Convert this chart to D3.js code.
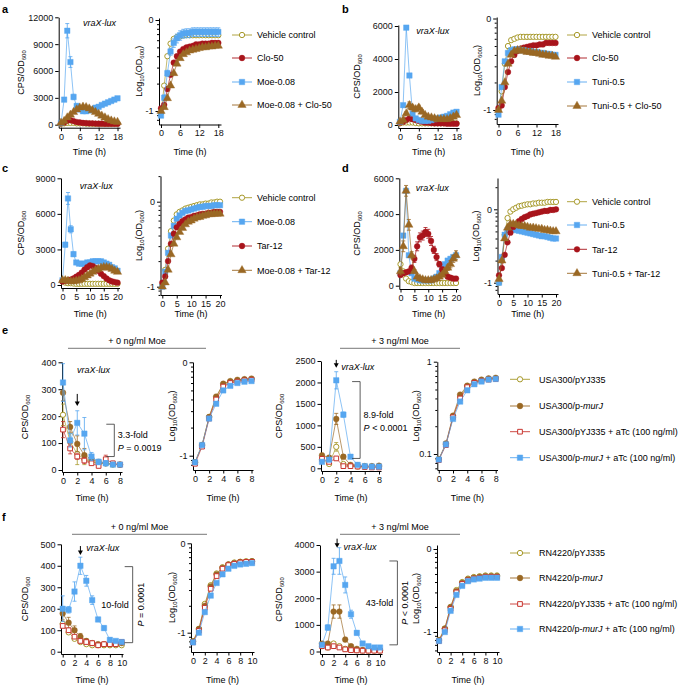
<!DOCTYPE html>
<html><head><meta charset="utf-8">
<script src="https://cdn.jsdelivr.net/npm/d3@7"></script>
<style>body{margin:0;background:#fff} svg text{font-family:"Liberation Sans",Arial,Helvetica,sans-serif}</style>
</head><body><svg id="c" width="685" height="685"></svg>
<script>
// ---------------- DATA ----------------
const tA = [0,1,2,3,4,5,6,7,8,9,10,11,12,13,14,15,16,17,18];
const tC = [0,1,2,3,4,5,6,7,8,9,10,11,12,13,14,15,16,17,18,19,20];
const tE = [0,1,2,3,4,5,6,7,8];
const tF = [0,1,2,3,4,5,6,7,8,9,10];

// panel a : CPS/OD600
const aVeh    = [100,150,200,200,200,150,150,150,120,120,100,100,100,100,100,100,100,100,100];
const aClo    = [150,250,450,500,400,300,250,200,180,150,150,130,120,120,100,100,100,100,100];
const aMoe    = [200,2800,10500,7000,3100,2100,1700,1500,1500,1600,1700,1900,2000,2200,2350,2500,2650,2800,2950];
const aMoeErr = [50,200,800,600,300,200,150,150,150,150,150,150,150,150,150,150,150,150,150];
const aMoeClo = [200,400,800,1100,1400,1700,1900,2000,1950,1800,1600,1400,1200,1000,800,600,450,350,300];
// panel a : OD600 (log axis)
const aVehOD    = [0.095,0.19,0.40,0.55,0.62,0.65,0.66,0.68,0.68,0.68,0.68,0.68,0.68,0.68,0.68,0.68,0.68,0.68,0.68];
const aCloOD    = [0.107,0.117,0.174,0.25,0.34,0.40,0.45,0.48,0.50,0.51,0.52,0.54,0.54,0.55,0.55,0.55,0.56,0.56,0.56];
const aMoeOD    = [0.089,0.14,0.26,0.45,0.56,0.63,0.68,0.71,0.72,0.72,0.74,0.74,0.74,0.74,0.74,0.74,0.74,0.74,0.74];
const aMoeODErr = [0,0.01,0.02,0.04,0.06,0.07,0.08,0.08,0.08,0.08,0.08,0.08,0.08,0.08,0.08,0.08,0.08,0.08,0.08];
const aMoeCloOD = [0.10,0.11,0.138,0.19,0.26,0.33,0.38,0.42,0.44,0.46,0.47,0.48,0.49,0.50,0.50,0.51,0.51,0.52,0.52];

// panel b
const bVeh     = [100,150,150,150,150,120,100,100,100,100,100,100,100,100,100,100,100,100,100];
const bClo     = [150,200,300,400,350,300,250,200,150,150,120,100,100,100,100,80,80,80,80];
const bTuni    = [200,1200,5900,3000,700,400,300,250,250,250,300,350,400,450,500,550,650,750,800];
const bTuniClo = [200,300,700,1200,1050,950,1050,800,600,500,450,400,350,350,350,350,400,500,600];
const bTuniCloErr = [0,50,100,200,150,150,150,120,100,80,80,80,80,80,80,80,80,100,100];
const bVehOD     = [0.10,0.16,0.32,0.50,0.58,0.60,0.62,0.63,0.63,0.63,0.63,0.63,0.63,0.63,0.63,0.63,0.63,0.63,0.63];
const bCloOD     = [0.105,0.112,0.178,0.26,0.34,0.40,0.44,0.47,0.48,0.49,0.50,0.51,0.51,0.52,0.52,0.54,0.54,0.54,0.54];
const bTuniOD    = [0.089,0.178,0.34,0.42,0.45,0.46,0.46,0.45,0.45,0.44,0.44,0.43,0.43,0.42,0.42,0.41,0.41,0.40,0.40];
const bTuniCloOD = [0.10,0.126,0.20,0.32,0.40,0.44,0.45,0.45,0.44,0.43,0.43,0.42,0.42,0.41,0.40,0.40,0.39,0.39,0.38];

// panel c
const cVeh    = [300,200,150,150,120,100,100,100,100,100,100,100,100,100,100,100,100,100,100,100,100];
const cMoe    = [400,3400,7300,4700,2600,1900,1800,1800,1800,1900,1900,2000,2000,2000,2000,1900,1800,1700,1500,1400,1200];
const cMoeErr = [50,200,500,300,200,150,150,150,150,150,150,150,150,150,150,150,150,150,150,150,150];
const cTar    = [300,350,400,450,550,700,850,1050,1300,1500,1650,1600,1450,1200,950,750,550,400,300,250,200];
const cMoeTar = [400,400,350,300,300,350,400,500,650,800,950,1100,1250,1350,1450,1500,1500,1450,1350,1200,1100];
const cVehOD    = [0.105,0.158,0.28,0.45,0.60,0.71,0.76,0.79,0.83,0.85,0.87,0.89,0.91,0.93,0.93,0.95,0.95,0.98,0.98,1.0,1.0];
const cMoeOD    = [0.10,0.15,0.25,0.40,0.52,0.63,0.69,0.74,0.78,0.79,0.81,0.83,0.85,0.87,0.87,0.89,0.89,0.89,0.91,0.91,0.91];
const cTarOD    = [0.112,0.132,0.20,0.32,0.42,0.50,0.55,0.59,0.62,0.65,0.66,0.68,0.69,0.71,0.72,0.72,0.74,0.74,0.76,0.76,0.76];
const cMoeTarOD = [0.10,0.112,0.158,0.24,0.32,0.38,0.44,0.49,0.54,0.58,0.60,0.63,0.65,0.66,0.68,0.69,0.71,0.71,0.72,0.72,0.72];

// panel d
const dVeh     = [1200,800,400,250,200,150,150,150,150,150,150,150,150,150,150,150,150,150,150,150,150];
const dTuni    = [700,2800,5300,1700,700,400,350,300,300,300,300,300,400,500,700,1000,1200,1400,1500,1600,1700];
const dTar     = [600,700,750,800,1000,1500,2200,2700,2800,3000,2900,2500,2000,1600,1200,900,700,500,450,400,400];
const dTarErr  = [100,100,100,100,150,200,250,250,250,250,250,250,200,200,150,150,100,100,100,100,100];
const dTuniTar = [800,2200,5300,3400,1700,800,500,400,350,300,300,300,350,400,500,600,800,1000,1200,1500,1700];
const dTuniTarErr = [200,300,300,300,200,100,80,80,80,80,80,80,80,80,100,100,150,150,200,200,250];
const dVehOD     = [0.10,0.20,0.45,0.76,0.93,1.0,1.05,1.10,1.12,1.15,1.17,1.17,1.20,1.20,1.23,1.23,1.23,1.26,1.26,1.26,1.26];
const dTuniOD    = [0.10,0.224,0.45,0.52,0.54,0.54,0.52,0.51,0.50,0.49,0.48,0.47,0.46,0.45,0.44,0.43,0.43,0.42,0.41,0.40,0.40];
const dTarOD     = [0.126,0.158,0.24,0.355,0.48,0.575,0.63,0.69,0.74,0.78,0.81,0.85,0.87,0.89,0.91,0.93,0.95,0.95,0.98,0.98,1.0];
const dTuniTarOD = [0.112,0.20,0.40,0.56,0.63,0.63,0.62,0.60,0.59,0.59,0.575,0.56,0.56,0.55,0.54,0.54,0.52,0.52,0.51,0.50,0.50];

// panel e, 0 ng/ml Moe
const e1Y335  = [205,105,60,40,30,25,25,20,20];
const e1Y335Err=[40,30,40,20,10,5,5,5,5];
const e1Mur   = [287,160,97,55,40,30,25,22,20];
const e1MurErr= [30,20,30,25,10,5,5,5,5];
const e1Y335a = [150,80,50,35,25,15,40,25,20];
const e1Y335aErr=[30,20,10,10,5,5,15,5,5];
const e1Mura  = [325,110,175,135,50,30,25,20,20];
const e1MuraErr=[70,25,45,60,15,10,10,5,5];
const e1Y335OD  = [0.085,0.13,0.26,0.42,0.58,0.62,0.64,0.65,0.66];
const e1MurOD   = [0.085,0.13,0.26,0.43,0.59,0.63,0.65,0.66,0.67];
const e1Y335aOD = [0.082,0.125,0.25,0.40,0.55,0.60,0.62,0.64,0.65];
const e1MuraOD  = [0.085,0.13,0.25,0.36,0.50,0.56,0.60,0.62,0.63];
// panel e, 3 ng/ml Moe
const e2Y335  = [200,100,500,100,60,40,40,40,40];
const e2Y335Err=[50,30,100,30,10,10,10,10,10];
const e2Mur   = [300,250,1150,270,80,70,50,50,60];
const e2MurErr= [50,40,130,50,20,10,10,10,10];
const e2Y335a = [220,150,230,50,50,40,30,20,20];
const e2Mura  = [150,200,2050,1250,270,80,50,40,40];
const e2MuraErr=[30,30,200,60,40,10,10,10,10];
const e2Y335OD  = [0.088,0.127,0.25,0.42,0.54,0.60,0.63,0.65,0.66];
const e2MurOD   = [0.088,0.13,0.26,0.44,0.55,0.61,0.64,0.66,0.67];
const e2Y335aOD = [0.086,0.125,0.25,0.40,0.53,0.59,0.62,0.64,0.65];
const e2MuraOD  = [0.087,0.127,0.24,0.37,0.49,0.57,0.61,0.64,0.65];

// panel f, 0 ng/ml Moe
const f1Y335  = [130,90,60,45,35,30,30,30,30,30,30];
const f1Mur   = [178,135,100,70,50,40,35,35,35,35,40];
const f1MurErr= [30,25,20,15,10,5,5,5,5,5,5];
const f1Y335a = [120,100,70,50,45,40,30,35,35,35,45];
const f1Mura  = [200,195,280,400,330,240,150,110,55,50,45];
const f1MuraErr=[60,15,45,40,25,20,10,10,10,5,5];
const f1Y335OD  = [0.08,0.11,0.21,0.34,0.46,0.54,0.58,0.61,0.62,0.63,0.63];
const f1MurOD   = [0.08,0.11,0.20,0.33,0.45,0.53,0.58,0.60,0.62,0.62,0.63];
const f1Y335aOD = [0.078,0.105,0.19,0.31,0.43,0.52,0.57,0.59,0.61,0.62,0.62];
const f1MuraOD  = [0.078,0.10,0.17,0.26,0.36,0.45,0.52,0.56,0.58,0.59,0.60];
// panel f, 3 ng/ml Moe
const f2Y335  = [200,150,300,200,100,60,50,40,40,40,40];
const f2Mur   = [300,300,1500,1500,450,200,100,60,50,50,50];
const f2MurErr= [50,50,250,250,80,30,20,10,10,10,10];
const f2Y335a = [200,150,200,150,80,50,40,30,30,30,30];
const f2Mura  = [250,900,3200,3400,2500,1400,700,300,200,150,150];
const f2MuraErr=[50,100,300,500,300,150,80,50,30,20,20];
const f2Y335OD  = [0.08,0.11,0.20,0.32,0.40,0.44,0.46,0.47,0.48,0.48,0.48];
const f2MurOD   = [0.08,0.11,0.20,0.31,0.39,0.43,0.45,0.46,0.47,0.47,0.47];
const f2Y335aOD = [0.078,0.105,0.19,0.30,0.38,0.42,0.44,0.45,0.46,0.46,0.46];
const f2MuraOD  = [0.078,0.10,0.18,0.28,0.36,0.41,0.43,0.44,0.45,0.45,0.45];

// tick values
const ticksA = [0,6,12,18], ticksC = [0,5,10,15,20], ticksE = [0,2,4,6,8], ticksF = [0,2,4,6,8,10];
const cpsTicksA = [0,3000,6000,9000,12000], cpsTicksB = [0,2000,4000,6000];
const cpsTicksC = [0,3000,6000,9000], cpsTicksD = [0,2000,4000,6000];
const cpsTicksE1 = [0,100,200,300,400], cpsTicksE2 = [0,500,1000,1500,2000,2500];
const cpsTicksF1 = [0,100,200,300,400,500], cpsTicksF2 = [0,1000,2000,3000,4000];
const logTicks = [0.1,1];
const logMinor = [0.06,0.07,0.08,0.09,0.2,0.3,0.4,0.5,0.6,0.7,0.8,0.9,2,3];

// ---------------- STYLE ----------------
const COL = {veh:'#a89a2c', red:'#a8141b', blue:'#56a6f0', brown:'#9a6824', redsq:'#c8352f'};
const svg = d3.select('#c');

function mkScale(type, a0, p0, a1, p1, e0, e1) {
  const s = (type === 'log' ? d3.scaleLog() : d3.scaleLinear()).domain([a0, a1]).range([p0, p1]);
  return s.copy().domain([s.invert(e0), s.invert(e1)]).range([e0, e1]);
}
function styleAxis(g) {
  g.attr('font-size', 9).attr('font-family', null);
  g.selectAll('path.domain').attr('stroke', '#000').attr('stroke-width', 1);
  g.selectAll('.tick line').attr('stroke', '#000').attr('stroke-width', 1);
  g.selectAll('.tick text').attr('fill', '#111');
}
const symGen = {
  circle: d3.symbol().type(d3.symbolCircle).size(26),
  circleOpen: d3.symbol().type(d3.symbolCircle).size(22),
  square: d3.symbol().type(d3.symbolSquare).size(30),
  squareOpen: d3.symbol().type(d3.symbolSquare).size(22),
  triangle: d3.symbol().type(d3.symbolTriangle).size(30)
};
function marker(g, shape, color, cx, cy) {
  const open = shape.endsWith('Open');
  g.append('path').attr('d', symGen[shape]()).attr('transform', `translate(${cx},${cy})`)
    .attr('fill', open ? '#fff' : color).attr('stroke', color).attr('stroke-width', open ? 1 : 0.4);
}
function drawPanel(p) {
  const g = svg.append('g');
  const x = mkScale('lin', ...p.x.anchor, ...p.x.ext);
  const y = mkScale(p.y.type, ...p.y.anchor, ...p.y.ext);
  const xa = g.append('g').attr('transform', `translate(0,${p.y.ext[0]})`)
    .call(d3.axisBottom(x).tickValues(p.x.ticks).tickSize(3.5).tickSizeOuter(0).tickPadding(2).tickFormat(d3.format('d')));
  styleAxis(xa);
  const ya = g.append('g').attr('transform', `translate(${p.x.ext[0]},0)`)
    .call(d3.axisLeft(y).tickValues(p.y.ticks).tickSize(3.5).tickSizeOuter(0).tickPadding(2).tickFormat(p.y.fmt));
  styleAxis(ya);
  if (p.y.type === 'log') {
    const dom = y.domain();
    const mt = logMinor.filter(v => v >= Math.min(...dom) && v <= Math.max(...dom));
    const ma = g.append('g').attr('transform', `translate(${p.x.ext[0]},0)`)
      .call(d3.axisLeft(y).tickValues(mt).tickSize(2).tickSizeOuter(0).tickFormat(''));
    styleAxis(ma);
    ma.select('path.domain').remove();
  }
  p.series.forEach(s => {
    const pts = p.t.map((t, i) => ({t, v: s.v[i], e: s.e ? s.e[i] : 0}));
    g.append('path').datum(pts).attr('fill', 'none').attr('stroke', s.c).attr('stroke-width', 0.8).attr('opacity', 0.85)
      .attr('d', d3.line().x(d => x(d.t)).y(d => y(d.v)));
    pts.forEach(d => {
      if (d.e > 0) {
        const lo = Math.max(d.v - d.e, p.y.type === 'log' ? d.v * 0.5 : 0);
        const y0 = y(lo), y1 = y(d.v + d.e), cx = x(d.t);
        g.append('line').attr('x1', cx).attr('x2', cx).attr('y1', y0).attr('y2', y1).attr('stroke', s.c).attr('stroke-width', 0.8);
        [y0, y1].forEach(yy => g.append('line').attr('x1', cx - 2).attr('x2', cx + 2).attr('y1', yy).attr('y2', yy).attr('stroke', s.c).attr('stroke-width', 0.8));
      }
    });
    pts.forEach(d => marker(g, s.shape, s.c, x(d.t), y(d.v)));
  });
  if (p.title) {
    svg.append('text').attr('x', x(p.title.t)).attr('y', y(p.title.v)).attr('font-size', 9).attr('font-style', 'italic').text('vraX-lux');
  }
  if (p.arrow) {
    const ax = x(p.arrow.t), ay = y(p.arrow.v);
    svg.append('line').attr('x1', ax).attr('x2', ax).attr('y1', ay - p.arrow.len).attr('y2', ay - 3).attr('stroke', '#000').attr('stroke-width', 1);
    svg.append('path').attr('d', `M${ax - 2.5},${ay - 4.5} L${ax + 2.5},${ay - 4.5} L${ax},${ay} Z`).attr('fill', '#000');
  }
  if (p.bracket) {
    const b = p.bracket, bx = x(b.t), by0 = y(b.v0), by1 = y(b.v1);
    svg.append('path').attr('d', `M${bx - 8},${by0} H${bx} V${by1} H${bx - 8}`).attr('fill', 'none').attr('stroke', '#333').attr('stroke-width', 0.8);
    const my = (by0 + by1) / 2;
    if (b.mode === 'right') {
      svg.append('text').attr('x', bx + 3.5).attr('y', my - 2).attr('font-size', 9).text(b.fold);
      const pt = svg.append('text').attr('x', bx + 3.5).attr('y', my + 10.5).attr('font-size', 9);
      pt.append('tspan').attr('font-style', 'italic').text('P');
      pt.append('tspan').text(b.p);
    } else {
      svg.append('text').attr('x', bx - 4).attr('y', my + 3).attr('text-anchor', 'end').attr('font-size', 9).text(b.fold);
      const pt = svg.append('text').attr('transform', `translate(${bx + 11},${my}) rotate(-90)`).attr('text-anchor', 'middle').attr('font-size', 9);
      pt.append('tspan').attr('font-style', 'italic').text('P');
      pt.append('tspan').text(b.p);
    }
  }
  const ymid = (p.y.ext[0] + p.y.ext[1]) / 2;
  const yl = svg.append('text').attr('transform', `translate(${p.ylab.x},${ymid}) rotate(-90)`).attr('text-anchor', 'middle').attr('font-size', 9);
  if (p.y.type === 'log') {
    yl.append('tspan').text('Log');
    yl.append('tspan').attr('font-size', 6).attr('dy', 2).text('10');
    yl.append('tspan').attr('dy', -2).text('(OD');
    yl.append('tspan').attr('font-size', 6).attr('dy', 2).text('600');
    yl.append('tspan').attr('dy', -2).text(')');
  } else {
    yl.append('tspan').text('CPS/OD');
    yl.append('tspan').attr('font-size', 6).attr('dy', 2).text('600');
  }
  if (p.xlab) {
    svg.append('text').attr('x', (p.x.ext[0] + p.x.ext[1]) / 2).attr('y', p.xlab).attr('text-anchor', 'middle').attr('font-size', 9).text('Time (h)');
  }
}
const fmtLog = d => d === 1 ? '0' : '-1';
const fmtLog2 = d => d === 1 ? '1' : '0.1';
const fmtD = d3.format('d');
function S(v, c, shape, e) { return {v, c, shape, e}; }

// ---------------- PANELS ----------------
drawPanel({t: tA, x: {anchor: [0, 61, 18, 117.5], ext: [58.7, 120], ticks: ticksA},
  y: {type: 'lin', anchor: [0, 124.7, 12000, 17.3], ext: [127.7, 17.3], ticks: cpsTicksA, fmt: fmtD},
  series: [S(aVeh, COL.veh, 'circleOpen'), S(aClo, COL.red, 'circle'), S(aMoe, COL.blue, 'square', aMoeErr), S(aMoeClo, COL.brown, 'triangle')],
  title: {t: 7, v: 11000}, ylab: {x: 24}, xlab: 155});
drawPanel({t: tA, x: {anchor: [0, 161, 18, 218.3], ext: [159, 221], ticks: ticksA},
  y: {type: 'log', anchor: [1, 20, 0.1, 111], ext: [124.5, 18], ticks: logTicks, fmt: fmtLog},
  series: [S(aVehOD, COL.veh, 'circleOpen'), S(aCloOD, COL.red, 'circle'), S(aMoeOD, COL.blue, 'square', aMoeODErr), S(aMoeCloOD, COL.brown, 'triangle')],
  ylab: {x: 142}, xlab: 155});
drawPanel({t: tA, x: {anchor: [0, 400, 18, 456.5], ext: [398.3, 459], ticks: ticksA},
  y: {type: 'lin', anchor: [0, 125, 6000, 26], ext: [128, 25], ticks: cpsTicksB, fmt: fmtD},
  series: [S(bVeh, COL.veh, 'circleOpen'), S(bClo, COL.red, 'circle'), S(bTuni, COL.blue, 'square'), S(bTuniClo, COL.brown, 'triangle', bTuniCloErr)],
  title: {t: 5.2, v: 5500}, ylab: {x: 360}, xlab: 155});
drawPanel({t: tA, x: {anchor: [0, 498.5, 18, 555.5], ext: [496.7, 558], ticks: ticksA},
  y: {type: 'log', anchor: [1, 18.5, 0.1, 110], ext: [124, 17], ticks: logTicks, fmt: fmtLog},
  series: [S(bVehOD, COL.veh, 'circleOpen'), S(bCloOD, COL.red, 'circle'), S(bTuniOD, COL.blue, 'square'), S(bTuniCloOD, COL.brown, 'triangle')],
  ylab: {x: 480}, xlab: 155});
drawPanel({t: tC, x: {anchor: [0, 62.5, 20, 117.5], ext: [61, 119.5], ticks: ticksC},
  y: {type: 'lin', anchor: [0, 285, 9000, 178.3], ext: [288, 178], ticks: cpsTicksC, fmt: fmtD},
  series: [S(cVeh, COL.veh, 'circleOpen'), S(cMoe, COL.blue, 'square', cMoeErr), S(cTar, COL.red, 'circle'), S(cMoeTar, COL.brown, 'triangle')],
  title: {t: 6.3, v: 8100}, ylab: {x: 24}, xlab: 317});
drawPanel({t: tC, x: {anchor: [0, 162.3, 20, 220], ext: [160.5, 221.5], ticks: ticksC},
  y: {type: 'log', anchor: [1, 201.7, 0.1, 286.7], ext: [295, 176], ticks: logTicks, fmt: fmtLog},
  series: [S(cVehOD, COL.veh, 'circleOpen'), S(cMoeOD, COL.blue, 'square'), S(cTarOD, COL.red, 'circle'), S(cMoeTarOD, COL.brown, 'triangle')],
  ylab: {x: 142}, xlab: 317});
drawPanel({t: tC, x: {anchor: [0, 400.5, 20, 456], ext: [399.3, 458], ticks: ticksC},
  y: {type: 'lin', anchor: [0, 285.7, 6000, 178.3], ext: [289, 178], ticks: cpsTicksD, fmt: fmtD},
  series: [S(dVeh, COL.veh, 'circleOpen'), S(dTuni, COL.blue, 'square'), S(dTar, COL.red, 'circle', dTarErr), S(dTuniTar, COL.brown, 'triangle', dTuniTarErr)],
  title: {t: 5.5, v: 5300}, ylab: {x: 360}, xlab: 317});
drawPanel({t: tC, x: {anchor: [0, 499, 20, 556], ext: [497.5, 558], ticks: ticksC},
  y: {type: 'log', anchor: [1, 209.3, 0.1, 282.7], ext: [294, 178], ticks: logTicks, fmt: fmtLog},
  series: [S(dVehOD, COL.veh, 'circleOpen'), S(dTuniOD, COL.blue, 'square'), S(dTarOD, COL.red, 'circle'), S(dTuniTarOD, COL.brown, 'triangle')],
  ylab: {x: 479}, xlab: 317});
const serE = (a, b, c, d, ea, eb, ec, ed) => [S(a, COL.veh, 'circleOpen', ea), S(b, COL.brown, 'circle', eb), S(c, COL.redsq, 'squareOpen', ec), S(d, COL.blue, 'square', ed)];
drawPanel({t: tE, x: {anchor: [0, 63, 8, 120], ext: [62, 122], ticks: ticksE},
  y: {type: 'lin', anchor: [0, 470, 400, 362.3], ext: [472, 362], ticks: cpsTicksE1, fmt: fmtD},
  series: serE(e1Y335, e1Mur, e1Y335a, e1Mura, e1Y335Err, e1MurErr, e1Y335aErr, e1MuraErr),
  title: {t: 1.95, v: 360}, arrow: {t: 2, v: 238, len: 12},
  bracket: {t: 7.2, v0: 170, v1: 50, mode: 'right', fold: '3.3-fold', p: ' = 0.0019'},
  ylab: {x: 28}, xlab: 501});
drawPanel({t: tE, x: {anchor: [0, 195, 8, 251.5], ext: [193, 253], ticks: ticksE},
  y: {type: 'log', anchor: [1, 362.3, 0.1, 455.7], ext: [470, 362], ticks: logTicks, fmt: fmtLog},
  series: serE(e1Y335OD, e1MurOD, e1Y335aOD, e1MuraOD),
  ylab: {x: 175}, xlab: 501});
drawPanel({t: tE, x: {anchor: [0, 322, 8, 379], ext: [321, 381], ticks: ticksE},
  y: {type: 'lin', anchor: [0, 468.3, 2500, 361], ext: [471, 361], ticks: cpsTicksE2, fmt: fmtD},
  series: serE(e2Y335, e2Mur, e2Y335a, e2Mura, e2Y335Err, e2MurErr, null, e2MuraErr),
  title: {t: 2.7, v: 2280}, arrow: {t: 2, v: 2340, len: 8},
  bracket: {t: 5.35, v0: 2020, v1: 230, mode: 'right', fold: '8.9-fold', p: ' < 0.0001'},
  ylab: {x: 282}, xlab: 501});
drawPanel({t: tE, x: {anchor: [0, 438.8, 8, 495.7], ext: [437.3, 497.5], ticks: ticksE},
  y: {type: 'log', anchor: [1, 361.7, 0.1, 454], ext: [470, 361.7], ticks: logTicks, fmt: fmtLog2},
  series: serE(e2Y335OD, e2MurOD, e2Y335aOD, e2MuraOD),
  ylab: {x: 419}, xlab: 501});
drawPanel({t: tF, x: {anchor: [0, 62.7, 10, 121.7], ext: [61, 123], ticks: ticksF},
  y: {type: 'lin', anchor: [0, 651.7, 500, 544.3], ext: [654, 544], ticks: cpsTicksF1, fmt: fmtD},
  series: serE(f1Y335, f1Mur, f1Y335a, f1Mura, null, f1MurErr, null, f1MuraErr),
  title: {t: 4, v: 468}, arrow: {t: 3, v: 450, len: 9},
  bracket: {t: 11.86, v0: 396, v1: 42, mode: 'left', fold: '10-fold', p: ' = 0.0001'},
  ylab: {x: 28}, xlab: 683});
drawPanel({t: tF, x: {anchor: [0, 193, 10, 252], ext: [191, 254], ticks: ticksF},
  y: {type: 'log', anchor: [1, 543.3, 0.1, 632.7], ext: [652, 543], ticks: logTicks, fmt: fmtLog},
  series: serE(f1Y335OD, f1MurOD, f1Y335aOD, f1MuraOD),
  ylab: {x: 175}, xlab: 683});
drawPanel({t: tF, x: {anchor: [0, 322, 10, 380], ext: [320, 382], ticks: ticksF},
  y: {type: 'lin', anchor: [0, 651.5, 4000, 545], ext: [654, 545], ticks: cpsTicksF2, fmt: fmtD},
  series: serE(f2Y335, f2Mur, f2Y335a, f2Mura, null, f2MurErr, null, f2MuraErr),
  title: {t: 3.7, v: 3800}, arrow: {t: 2.6, v: 3900, len: 9},
  bracket: {t: 13, v0: 3400, v1: 250, mode: 'left', fold: '43-fold', p: ' < 0.0001'},
  ylab: {x: 282}, xlab: 683});
drawPanel({t: tF, x: {anchor: [0, 439, 10, 497], ext: [437, 499], ticks: ticksF},
  y: {type: 'log', anchor: [1, 549, 0.1, 632], ext: [652, 545], ticks: logTicks, fmt: fmtLog},
  series: serE(f2Y335OD, f2MurOD, f2Y335aOD, f2MuraOD),
  ylab: {x: 419}, xlab: 683});

// ---------------- LEGENDS ----------------
function legend(x0, rows, items) {
  items.forEach((it, i) => {
    const yy = rows[i];
    svg.append('line').attr('x1', x0).attr('x2', x0 + 20).attr('y1', yy).attr('y2', yy).attr('stroke', it.c).attr('stroke-width', 0.9);
    marker(svg, it.shape, it.c, x0 + 10, yy);
    const t = svg.append('text').attr('x', x0 + (it.dx || 25)).attr('y', yy + 3.2).attr('font-size', 9);
    it.parts.forEach(pp => t.append('tspan').attr('font-style', pp[1] ? 'italic' : null).text(pp[0]));
  });
}
const L = (c, shape, parts, dx) => ({c, shape, parts, dx});
legend(232, [35, 58, 82, 105], [L(COL.veh, 'circleOpen', [['Vehicle control']]), L(COL.red, 'circle', [['Clo-50']]), L(COL.blue, 'square', [['Moe-0.08']]), L(COL.brown, 'triangle', [['Moe-0.08 + Clo-50']])]);
legend(567, [35, 58, 82, 106], [L(COL.veh, 'circleOpen', [['Vehicle control']]), L(COL.red, 'circle', [['Clo-50']]), L(COL.blue, 'square', [['Tuni-0.5']]), L(COL.brown, 'triangle', [['Tuni-0.5 + Clo-50']])]);
legend(232, [197.7, 221.7, 246, 270.3], [L(COL.veh, 'circleOpen', [['Vehicle control']]), L(COL.blue, 'square', [['Moe-0.08']]), L(COL.red, 'circle', [['Tar-12']]), L(COL.brown, 'triangle', [['Moe-0.08 + Tar-12']])]);
legend(567, [201.7, 225, 249.3, 273.3], [L(COL.veh, 'circleOpen', [['Vehicle control']]), L(COL.blue, 'square', [['Tuni-0.5']]), L(COL.red, 'circle', [['Tar-12']]), L(COL.brown, 'triangle', [['Tuni-0.5 + Tar-12']])]);
legend(510, [379.3, 406, 431.7, 457.7], [L(COL.veh, 'circleOpen', [['USA300/pYJ335']], 29), L(COL.brown, 'circle', [['USA300/p-'], ['murJ', 1]], 29), L(COL.redsq, 'squareOpen', [['USA300/pYJ335 + aTc (100 ng/ml)']], 29), L(COL.blue, 'square', [['USA300/p-'], ['murJ', 1], [' + aTc (100 ng/ml)']], 29)]);
legend(510, [553, 578, 604, 629], [L(COL.veh, 'circleOpen', [['RN4220/pYJ335']], 29), L(COL.brown, 'circle', [['RN4220/p-'], ['murJ', 1]], 29), L(COL.redsq, 'squareOpen', [['RN4220/pYJ335 + aTc (100 ng/ml)']], 29), L(COL.blue, 'square', [['RN4220/p-'], ['murJ', 1], [' + aTc (100 ng/ml)']], 29)]);

// ---------------- PANEL LETTERS & HEADERS ----------------
[['a', 2, 13], ['b', 342, 13], ['c', 2, 172], ['d', 342, 172], ['e', 2, 334], ['f', 2, 521]].forEach(d =>
  svg.append('text').attr('x', d[1]).attr('y', d[2]).attr('font-size', 11).attr('font-weight', 'bold').text(d[0]));
function header(txt, x0, x1, yLine) {
  svg.append('text').attr('x', (x0 + x1) / 2).attr('y', yLine - 4.5).attr('text-anchor', 'middle').attr('font-size', 9).text(txt);
  svg.append('line').attr('x1', x0).attr('x2', x1).attr('y1', yLine).attr('y2', yLine).attr('stroke', '#555').attr('stroke-width', 0.8);
}
header('+ 0 ng/ml Moe', 68, 206, 348.3);
header('+ 3 ng/ml Moe', 340, 460, 348.3);
header('+ 0 ng/ml Moe', 72, 207, 534.3);
header('+ 3 ng/ml Moe', 340, 460, 534.3);
</script></body></html>
